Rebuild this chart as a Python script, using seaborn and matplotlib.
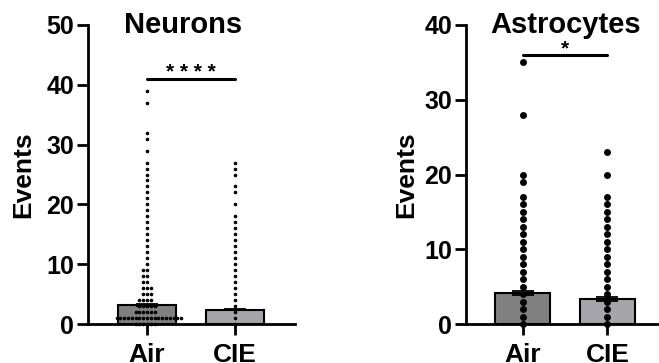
import warnings
import matplotlib
matplotlib.use('Agg')
import matplotlib.pyplot as plt
import seaborn as sns
import pandas as pd
import numpy as np

warnings.filterwarnings('ignore')

# Data
groups = ['Air', 'CIE']

neurons_air_values = list(range(0, 28)) + [29, 31, 32, 37, 39]
neurons_air_counts = [6, 18, 6, 5, 4, 3, 3, 2, 2, 2] + [1] * 23
neurons_cie_values = list(range(0, 19)) + [20, 22, 23, 25, 26, 27]
neurons_means = [3.2, 2.4]
neurons_sem = [0.15, 0.08]

astro_air_values = list(range(0, 18)) + [19, 20, 28, 35]
astro_cie_values = list(range(0, 18)) + [20, 23]
astro_means = [4.15, 3.35]
astro_sem = [0.3, 0.3]

bar_colors = ['#808080', '#a5a5ab']

sns.set_style('ticks')
plt.rcParams['font.family'] = ['Liberation Sans', 'DejaVu Sans']
plt.rcParams['font.weight'] = 'bold'
for key in ['text.color', 'axes.labelcolor', 'xtick.color', 'ytick.color', 'axes.edgecolor']:
    plt.rcParams[key] = 'black'


def make_points(air_vals, air_counts, cie_vals):
    air = np.repeat(air_vals, air_counts)
    cie = np.array(cie_vals)
    return pd.DataFrame({
        'group': ['Air'] * len(air) + ['CIE'] * len(cie),
        'events': np.concatenate([air, cie]).astype(float),
    })


def draw_panel(ax, points, means, sem, ymax, dot_size, sig_y, stars):
    summary = pd.DataFrame({'group': groups, 'mean': means})
    sns.barplot(data=summary, x='group', y='mean', hue='group', order=groups,
                palette=bar_colors, legend=False, errorbar=None, width=0.65,
                edgecolor='black', linewidth=1.5, ax=ax)
    ax.errorbar([0, 1], means, yerr=sem, fmt='none', ecolor='black',
                elinewidth=1.3, capsize=8, capthick=1.3, zorder=3)
    sns.swarmplot(data=points, x='group', y='events', order=groups,
                  color='black', size=dot_size, linewidth=0, ax=ax, zorder=4)
    for coll in ax.collections:
        coll.set_clip_on(False)

    ax.set_xlim(-0.67, 1.68)
    ax.set_ylim(0, ymax)
    ax.set_yticks(range(0, ymax + 1, 10))
    ax.set_xlabel('')
    ax.set_ylabel('Events', fontsize=19, fontweight='bold')
    ax.tick_params(axis='both', length=8, width=2, labelsize=18, pad=2)
    ax.tick_params(axis='x', labelsize=19, pad=6)
    for lab in ax.get_xticklabels() + ax.get_yticklabels():
        lab.set_fontweight('bold')
    sns.despine(ax=ax)
    for sp in ['left', 'bottom']:
        ax.spines[sp].set_linewidth(2)

    # significance bar
    ax.plot([0, 1], [sig_y, sig_y], color='black', lw=2.2, clip_on=False)
    ax.text(0.5, sig_y + ymax * 0.002, stars, ha='center', va='baseline',
            fontsize=15, fontweight='bold')


fig = plt.figure(figsize=(6.59, 3.63), dpi=100)
ax1 = fig.add_axes([88 / 659, 39 / 363, 207 / 659, 299 / 363])
ax2 = fig.add_axes([466 / 659, 39 / 363, 199 / 659, 299 / 363])

draw_panel(ax1, make_points(neurons_air_values, neurons_air_counts, neurons_cie_values),
           neurons_means, neurons_sem, 50, 2.6, 41, '* * * *')
draw_panel(ax2, make_points(astro_air_values, [1] * len(astro_air_values), astro_cie_values),
           astro_means, astro_sem, 40, 5, 36, '*')

ax1.text(0.46, 0.973, 'Neurons', transform=ax1.transAxes, ha='center',
         va='baseline', fontsize=21, fontweight='bold')
ax2.text(0.5, 0.973, 'Astrocytes', transform=ax2.transAxes, ha='center',
         va='baseline', fontsize=21, fontweight='bold')

ax1.yaxis.set_label_coords(-0.255, 0.5)
ax2.yaxis.set_label_coords(-0.24, 0.5)

fig.savefig('out.png', dpi=100)
